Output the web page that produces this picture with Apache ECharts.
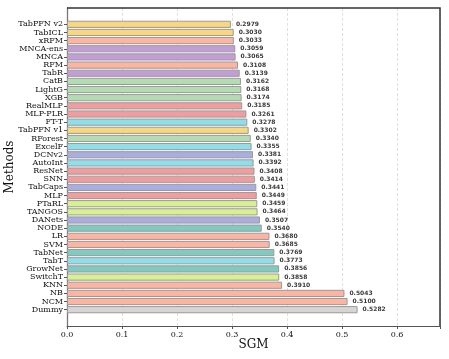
<!DOCTYPE html>
<html>
<head>
<meta charset="utf-8">
<script src="https://cdn.jsdelivr.net/npm/echarts@6/dist/echarts.min.js"></script>
<style>
	html, body { margin: 0; padding: 0; background: #fff; overflow: hidden; }
	#chart { width: 449px; height: 359px; }
</style>
</head>
<body>
<div id="chart"></div>
<script type="text/javascript">
	// methods, top to bottom
	var methods = ['TabPFN v2', 'TabICL', 'xRFM', 'MNCA-ens', 'MNCA', 'RFM', 'TabR', 'CatB', 'LightG', 'XGB',
		'RealMLP', 'MLP-PLR', 'FT-T', 'TabPFN v1', 'RForest', 'ExcelF', 'DCNv2', 'AutoInt', 'ResNet', 'SNN',
		'TabCaps', 'MLP', 'PTaRL', 'TANGOS', 'DANets', 'NODE', 'LR', 'SVM', 'TabNet', 'TabT',
		'GrowNet', 'SwitchT', 'KNN', 'NB', 'NCM', 'Dummy'];
	var sgm = [0.2979, 0.3030, 0.3033, 0.3059, 0.3065, 0.3108, 0.3139, 0.3162, 0.3168, 0.3174,
		0.3185, 0.3261, 0.3278, 0.3302, 0.3340, 0.3355, 0.3381, 0.3392, 0.3408, 0.3414,
		0.3441, 0.3449, 0.3459, 0.3464, 0.3507, 0.3540, 0.3680, 0.3685, 0.3769, 0.3773,
		0.3856, 0.3858, 0.3910, 0.5043, 0.5100, 0.5282];
	// colour group of each method
	var groups = ['pfn', 'pfn', 'kernel', 'retr', 'retr', 'kernel', 'retr', 'tree', 'tree', 'tree',
		'mlp', 'mlp', 'attn', 'pfn', 'tree', 'attn', 'special', 'attn', 'mlp', 'mlp',
		'special', 'mlp', 'reg', 'reg', 'special', 'nodes', 'kernel', 'kernel', 'nodes', 'attn',
		'nodes', 'reg', 'kernel', 'kernel', 'kernel', 'dummy'];
	var xTicks = [0, 0.1, 0.2, 0.3, 0.4, 0.5, 0.6];

	var groupColors = {
		pfn: '#f9d77e',
		kernel: '#fdb5a2',
		retr: '#c39dd5',
		tree: '#b3dcb3',
		mlp: '#f29d9d',
		attn: '#8fdfea',
		special: '#a9addf',
		reg: '#d8f08f',
		nodes: '#7fcbbf',
		dummy: '#d6d5d3'
	};

	// two empty slots above and below so bars sit off the frame
	var cats = ['_p0', '_p1'].concat(methods, ['_p2', '_p3']);
	var data = [null, null];
	for (var i = 0; i < methods.length; i++) {
		data.push({
			value: sgm[i],
			itemStyle: { color: groupColors[groups[i]] }
		});
	}
	data.push(null, null);

	var isPad = function(v) { return v.charAt(0) === '_'; };

	var W = 449, H = 359;
	var gridL = 67, gridR = 9, gridT = 8, gridB = 33;
	var x1 = W - gridR, y1 = H - gridB;

	var myChart = echarts.init(document.getElementById('chart'), null, { renderer: 'canvas' });
	var option = {
		animation: false,
		grid: { left: gridL, right: gridR, top: gridT, bottom: gridB, outerBoundsMode: 'none', containLabel: false },
		// top and right edges of the frame
		graphic: {
			elements: [{
				type: 'polyline',
				z: 100,
				silent: true,
				shape: { points: [[gridL, gridT], [x1, gridT], [x1, y1]] },
				style: { stroke: '#333', lineWidth: 1.5, fill: null }
			}]
		},
		xAxis: {
			type: 'value',
			min: 0,
			max: 0.678,
			interval: 0.1,
			name: 'SGM',
			nameLocation: 'middle',
			nameGap: 13,
			nameMoveOverlap: false,
			nameTextStyle: { fontFamily: 'DejaVu Serif', fontSize: 12, color: '#111' },
			axisLine: { show: true, onZero: false, lineStyle: { color: '#555', width: 1 } },
			axisTick: { show: true, length: 3, lineStyle: { color: '#555' } },
			axisLabel: {
				fontFamily: 'DejaVu Serif', fontSize: 8, color: '#111', margin: 5,
				formatter: function(v) {
					for (var k = 0; k < xTicks.length; k++) {
						if (Math.abs(v - xTicks[k]) < 1e-6) return xTicks[k].toFixed(1);
					}
					return '';
				}
			},
			splitLine: { show: true, lineStyle: { color: '#d8d8d8', type: [3, 2], width: 0.8 } }
		},
		yAxis: {
			type: 'category',
			data: cats,
			inverse: true,
			boundaryGap: false,
			name: 'Methods',
			nameLocation: 'middle',
			nameGap: 51,
			nameMoveOverlap: false,
			nameRotate: 90,
			nameTextStyle: { fontFamily: 'DejaVu Serif', fontSize: 12, color: '#111' },
			axisLine: { show: true, onZero: false, lineStyle: { color: '#777', width: 1.3 } },
			axisTick: {
				show: true, length: 3, lineStyle: { color: '#555' },
				interval: function(idx, v) { return !isPad(v); }
			},
			axisLabel: {
				fontFamily: 'DejaVu Serif', fontSize: 8, color: '#111', margin: 4,
				interval: 0,
				formatter: function(v) { return isPad(v) ? '' : v; }
			},
			splitLine: { show: false }
		},
		series: [{
			type: 'bar',
			data: data,
			barWidth: '88%',
			itemStyle: { borderColor: '#9a9a9a', borderWidth: 1 },
			label: {
				show: true,
				position: 'right',
				distance: 5,
				fontFamily: 'DejaVu Sans',
				fontSize: 6,
				fontWeight: 'bold',
				color: '#3a3a3a',
				formatter: function(p) { return p.value.toFixed(4); }
			}
		}]
	};
	myChart.setOption(option);
</script>
</body>
</html>
